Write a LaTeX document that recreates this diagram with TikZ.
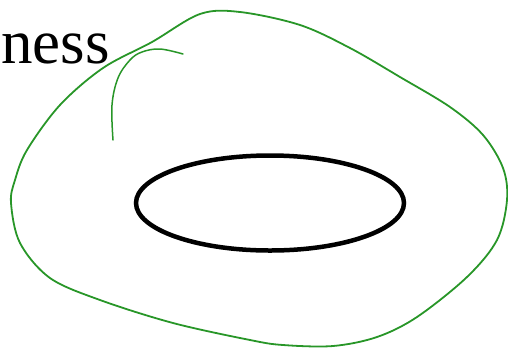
\documentclass[tikz,border=0pt]{standalone}
\usepackage{fontspec}
\setmainfont{Liberation Serif}
\begin{document}
\begin{tikzpicture}[x=1pt,y=-1pt]
\useasboundingbox (0,0) rectangle (508,349);
\definecolor{loopgreen}{RGB}{40,150,40}
\node[anchor=base east, inner sep=0pt, font=\fontsize{63}{63}\selectfont] (word) at (110,63) {ness};
\draw[loopgreen, line width=1.8pt] plot[smooth cycle, tension=0.55] coordinates {(152,42) (200,14) (240,12) (300,25) (350,48) (400,77) (450,107) (483,135) (503,168) (507,200) (497,240) (467,277) (417,317) (377,337) (333,346) (283,345) (250,340) (173,323) (100,300) (50,278) (20,243) (11,203) (15,180) (27,150) (60,105) (103,68)};
\draw[loopgreen, line width=1.5pt, line cap=round] plot[smooth, tension=0.6] coordinates {(113,140) (112,105) (118,78) (130,60) (142,52) (160,49) (183,54)};
\draw[line width=4.5pt] (270,203) ellipse [x radius=134, y radius=47.5];
\end{tikzpicture}
\end{document}
